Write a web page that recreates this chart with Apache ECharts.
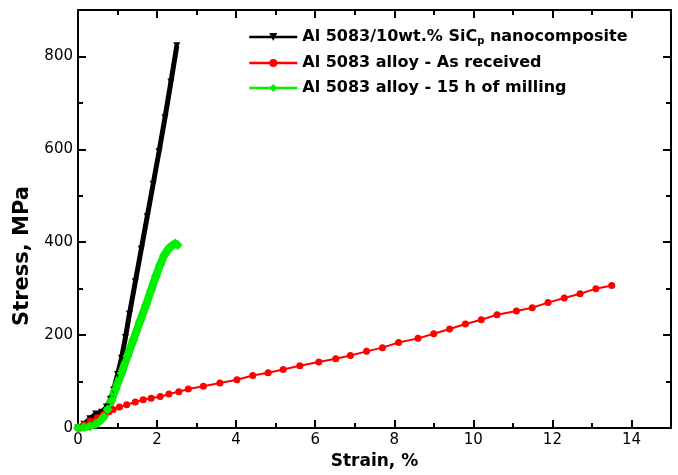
<!DOCTYPE html>
<html>
<head>
<meta charset="utf-8">
<script src="https://cdn.jsdelivr.net/npm/echarts@6/dist/echarts.min.js"></script>
<style>
html,body{margin:0;padding:0;background:#fff;}
#chart{width:678px;height:475px;}
</style>
</head>
<body>
<div id="chart"></div>
<script>
// values: strain in %, stress in MPa
var compositeStrain=[0,0.15,0.3,0.45,0.6,0.72,0.82,0.9,1.0,1.1,1.2,1.3,1.45,1.6,1.75,1.9,2.05,2.2,2.35,2.5];
var compositeStress=[0,8,20,30,34,45,62,82,115,150,195,245,315,385,455,525,595,668,745,823];

var receivedStrain=[0,0.15,0.31,0.48,0.64,0.78,0.89,1.05,1.23,1.45,1.65,1.85,2.08,2.3,2.55,2.79,
    3.17,3.59,4.02,4.42,4.81,5.19,5.61,6.09,6.52,6.89,7.3,7.7,8.11,8.6,9.0,9.4,9.8,10.2,10.6,11.09,11.49,11.89,12.3,12.7,13.1,13.5];
var receivedStress=[0,7,15,22,29,35,40,45,50,56,61,64,68,73,78,84,
    90,97,104,113,119,126,134,142,149,156,165,173,184,193,203,213,224,233,244,252,259,270,280,289,300,307];

var milledStrain=[0,0.15,0.3,0.45,0.55,0.65,0.75,0.85,0.95,1.1,1.25,1.4,1.57,1.72,1.85,1.97,2.08,2.18,2.28,2.38,2.46,2.52];
var milledStress=[0,2,4,9,15,24,40,60,84,118,155,190,230,265,297,327,352,372,385,393,397,394];

var names=['Al 5083/10wt.% SiCp nanocomposite','Al 5083 alloy - As received','Al 5083 alloy - 15 h of milling'];
var xTicks=[0,2,4,6,8,10,12,14];
var yTicks=[0,200,400,600,800];

function pairs(xs,ys){
    return xs.map(function(x,i){return [x,ys[i]];});
}

var black='#000';
var font='DejaVu Sans';

// one axis; major ones carry the line, minor ones only the short ticks
function axis(pos,max,step,len,labels,ticks){
    return {
        type:'value',
        position:pos,
        min:0,
        max:max,
        interval:step,
        axisLine:{show:len>5,onZero:false,lineStyle:{color:black,width:2}},
        axisTick:{show:true,inside:true,length:len,lineStyle:{color:black,width:2}},
        axisLabel:{
            show:labels,
            margin:5,
            color:black,
            fontFamily:font,
            fontSize:15,
            formatter:function(v){return ticks&&ticks.indexOf(v)>=0?v:'';}
        },
        splitLine:{show:false}
    };
}

var xMain=axis('bottom',15,2,8,true,xTicks);
xMain.name='Strain, %';
xMain.nameLocation='middle';
xMain.nameGap=25;
xMain.nameTextStyle={fontFamily:font,fontWeight:'bold',fontSize:17,color:black};

var yMain=axis('left',900,200,8,true,yTicks);
yMain.name='Stress, MPa';
yMain.nameLocation='middle';
yMain.nameGap=42;
yMain.nameTextStyle={fontFamily:font,fontWeight:'bold',fontSize:21,color:black,padding:[0,74,0,0]};

var option={
    animation:false,
    backgroundColor:'#fff',
    grid:{left:78,right:7,top:10,bottom:36},
    legend:{
        orient:'vertical',
        left:243,
        top:24,
        itemWidth:48,
        itemHeight:10,
        itemGap:9,
        lineStyle:{width:2.5},
        formatter:function(n){return n.replace('SiCp','SiC{sub|p}');},
        textStyle:{
            fontFamily:font,
            fontWeight:'bold',
            fontSize:16,
            color:black,
            rich:{sub:{fontFamily:font,fontWeight:'bold',fontSize:10,color:black,padding:[8,0,0,0]}}
        },
        data:names
    },
    xAxis:[
        xMain,
        axis('bottom',15,1,5,false),
        axis('top',15,2,8,false),
        axis('top',15,1,5,false)
    ],
    yAxis:[
        yMain,
        axis('left',900,100,5,false),
        axis('right',900,200,8,false),
        axis('right',900,100,5,false)
    ],
    series:[
        {
            name:names[0],
            type:'line',
            data:pairs(compositeStrain,compositeStress),
            symbol:'triangle',
            symbolRotate:180,
            symbolSize:7,
            lineStyle:{color:'#000',width:5},
            itemStyle:{color:'#000'}
        },
        {
            name:names[1],
            type:'line',
            data:pairs(receivedStrain,receivedStress),
            symbol:'circle',
            symbolSize:7,
            lineStyle:{color:'#ff0000',width:2},
            itemStyle:{color:'#ff0000'}
        },
        {
            name:names[2],
            type:'line',
            data:pairs(milledStrain,milledStress),
            symbol:'diamond',
            symbolSize:10,
            lineStyle:{color:'#00f000',width:8},
            itemStyle:{color:'#00f000'}
        }
    ]
};

var chart=echarts.init(document.getElementById('chart'));
chart.setOption(option);
</script>
</body>
</html>
